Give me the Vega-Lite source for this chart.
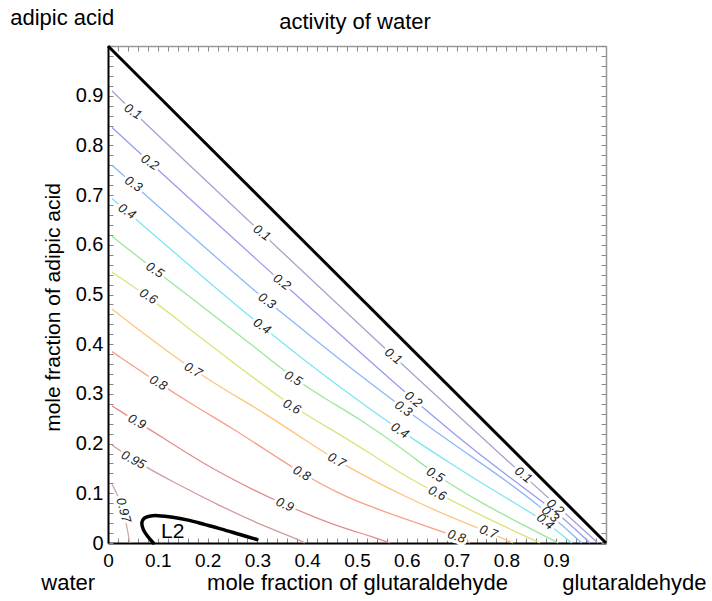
{
  "$schema": "https://vega.github.io/schema/vega-lite/v6.json",
  "width": 498,
  "height": 497,
  "autosize": {"type": "none"},
  "padding": {"left": 108, "top": 46, "right": 106, "bottom": 58},
  "background": "white",
  "config": {"view": {"stroke": null}, "font": "Liberation Sans"},
  "datasets": {
    "contours": [
      {"level":"0.1","i":0,"x":0.008,"y":0.91},{"level":"0.1","i":1,"x":0.05,"y":0.868},{"level":"0.1","i":2,"x":0.15,"y":0.773},{"level":"0.1","i":3,"x":0.25,"y":0.679},{"level":"0.1","i":4,"x":0.35,"y":0.585},{"level":"0.1","i":5,"x":0.45,"y":0.491},{"level":"0.1","i":6,"x":0.55,"y":0.397},{"level":"0.1","i":7,"x":0.65,"y":0.305},{"level":"0.1","i":8,"x":0.75,"y":0.213},{"level":"0.1","i":9,"x":0.85,"y":0.122},{"level":"0.1","i":10,"x":0.92,"y":0.058},{"level":"0.1","i":11,"x":0.984,"y":0},
      {"level":"0.2","i":0,"x":0.008,"y":0.836},{"level":"0.2","i":1,"x":0.1,"y":0.751},{"level":"0.2","i":2,"x":0.2,"y":0.66},{"level":"0.2","i":3,"x":0.3,"y":0.569},{"level":"0.2","i":4,"x":0.4,"y":0.479},{"level":"0.2","i":5,"x":0.5,"y":0.389},{"level":"0.2","i":6,"x":0.6,"y":0.3},{"level":"0.2","i":7,"x":0.7,"y":0.215},{"level":"0.2","i":8,"x":0.8,"y":0.136},{"level":"0.2","i":9,"x":0.9,"y":0.064},{"level":"0.2","i":10,"x":0.968,"y":0},
      {"level":"0.3","i":0,"x":0.008,"y":0.76},{"level":"0.3","i":1,"x":0.1,"y":0.678},{"level":"0.3","i":2,"x":0.2,"y":0.59},{"level":"0.3","i":3,"x":0.3,"y":0.502},{"level":"0.3","i":4,"x":0.4,"y":0.422},{"level":"0.3","i":5,"x":0.5,"y":0.342},{"level":"0.3","i":6,"x":0.6,"y":0.266},{"level":"0.3","i":7,"x":0.7,"y":0.194},{"level":"0.3","i":8,"x":0.8,"y":0.126},{"level":"0.3","i":9,"x":0.9,"y":0.048},{"level":"0.3","i":10,"x":0.951,"y":0},
      {"level":"0.4","i":0,"x":0.008,"y":0.693},{"level":"0.4","i":1,"x":0.1,"y":0.613},{"level":"0.4","i":2,"x":0.2,"y":0.527},{"level":"0.4","i":3,"x":0.3,"y":0.443},{"level":"0.4","i":4,"x":0.4,"y":0.363},{"level":"0.4","i":5,"x":0.5,"y":0.288},{"level":"0.4","i":6,"x":0.6,"y":0.217},{"level":"0.4","i":7,"x":0.7,"y":0.152},{"level":"0.4","i":8,"x":0.8,"y":0.09},{"level":"0.4","i":9,"x":0.88,"y":0.043},{"level":"0.4","i":10,"x":0.931,"y":0},
      {"level":"0.5","i":0,"x":0.008,"y":0.617},{"level":"0.5","i":1,"x":0.094,"y":0.549},{"level":"0.5","i":2,"x":0.2,"y":0.468},{"level":"0.5","i":3,"x":0.3,"y":0.39},{"level":"0.5","i":4,"x":0.372,"y":0.331},{"level":"0.5","i":5,"x":0.45,"y":0.282},{"level":"0.5","i":6,"x":0.5,"y":0.253},{"level":"0.5","i":7,"x":0.6,"y":0.184},{"level":"0.5","i":8,"x":0.657,"y":0.137},{"level":"0.5","i":9,"x":0.75,"y":0.08},{"level":"0.5","i":10,"x":0.85,"y":0.028},{"level":"0.5","i":11,"x":0.904,"y":0},
      {"level":"0.6","i":0,"x":0.008,"y":0.545},{"level":"0.6","i":1,"x":0.081,"y":0.496},{"level":"0.6","i":2,"x":0.16,"y":0.433},{"level":"0.6","i":3,"x":0.245,"y":0.368},{"level":"0.6","i":4,"x":0.369,"y":0.274},{"level":"0.6","i":5,"x":0.462,"y":0.221},{"level":"0.6","i":6,"x":0.53,"y":0.178},{"level":"0.6","i":7,"x":0.596,"y":0.135},{"level":"0.6","i":8,"x":0.661,"y":0.1},{"level":"0.6","i":9,"x":0.75,"y":0.055},{"level":"0.6","i":10,"x":0.82,"y":0.022},{"level":"0.6","i":11,"x":0.867,"y":0},
      {"level":"0.7","i":0,"x":0.008,"y":0.471},{"level":"0.7","i":1,"x":0.08,"y":0.415},{"level":"0.7","i":2,"x":0.171,"y":0.348},{"level":"0.7","i":3,"x":0.245,"y":0.302},{"level":"0.7","i":4,"x":0.315,"y":0.261},{"level":"0.7","i":5,"x":0.396,"y":0.207},{"level":"0.7","i":6,"x":0.459,"y":0.166},{"level":"0.7","i":7,"x":0.53,"y":0.127},{"level":"0.7","i":8,"x":0.596,"y":0.094},{"level":"0.7","i":9,"x":0.68,"y":0.055},{"level":"0.7","i":10,"x":0.764,"y":0.022},{"level":"0.7","i":11,"x":0.813,"y":0},
      {"level":"0.8","i":0,"x":0.008,"y":0.385},{"level":"0.8","i":1,"x":0.101,"y":0.322},{"level":"0.8","i":2,"x":0.175,"y":0.275},{"level":"0.8","i":3,"x":0.248,"y":0.232},{"level":"0.8","i":4,"x":0.32,"y":0.185},{"level":"0.8","i":5,"x":0.389,"y":0.14},{"level":"0.8","i":6,"x":0.462,"y":0.1},{"level":"0.8","i":7,"x":0.53,"y":0.072},{"level":"0.8","i":8,"x":0.6,"y":0.047},{"level":"0.8","i":9,"x":0.65,"y":0.03},{"level":"0.8","i":10,"x":0.7,"y":0.013},{"level":"0.8","i":11,"x":0.727,"y":0},
      {"level":"0.9","i":0,"x":0.008,"y":0.276},{"level":"0.9","i":1,"x":0.058,"y":0.244},{"level":"0.9","i":2,"x":0.101,"y":0.218},{"level":"0.9","i":3,"x":0.195,"y":0.157},{"level":"0.9","i":4,"x":0.295,"y":0.105},{"level":"0.9","i":5,"x":0.355,"y":0.077},{"level":"0.9","i":6,"x":0.429,"y":0.046},{"level":"0.9","i":7,"x":0.48,"y":0.028},{"level":"0.9","i":8,"x":0.53,"y":0.013},{"level":"0.9","i":9,"x":0.566,"y":0},
      {"level":"0.95","i":0,"x":0.008,"y":0.197},{"level":"0.95","i":1,"x":0.051,"y":0.167},{"level":"0.95","i":2,"x":0.128,"y":0.124},{"level":"0.95","i":3,"x":0.228,"y":0.073},{"level":"0.95","i":4,"x":0.315,"y":0.033},{"level":"0.95","i":5,"x":0.382,"y":0.007},{"level":"0.95","i":6,"x":0.395,"y":0},
      {"level":"0.97","i":0,"x":0.008,"y":0.118},{"level":"0.97","i":1,"x":0.018,"y":0.1},{"level":"0.97","i":2,"x":0.027,"y":0.075},{"level":"0.97","i":3,"x":0.034,"y":0.05},{"level":"0.97","i":4,"x":0.039,"y":0.028},{"level":"0.97","i":5,"x":0.042,"y":0.01},{"level":"0.97","i":6,"x":0.043,"y":0}
    ],
    "labels": [
      {"level":"0.1","x":0.05,"y":0.868,"angle":33},{"level":"0.1","x":0.309,"y":0.624,"angle":36},{"level":"0.1","x":0.573,"y":0.376,"angle":38},{"level":"0.1","x":0.834,"y":0.137,"angle":38},
      {"level":"0.2","x":0.084,"y":0.766,"angle":33},{"level":"0.2","x":0.349,"y":0.525,"angle":36},{"level":"0.2","x":0.613,"y":0.289,"angle":38},{"level":"0.2","x":0.898,"y":0.072,"angle":40},
      {"level":"0.3","x":0.051,"y":0.722,"angle":33},{"level":"0.3","x":0.319,"y":0.487,"angle":35},{"level":"0.3","x":0.593,"y":0.27,"angle":36},{"level":"0.3","x":0.888,"y":0.058,"angle":40},
      {"level":"0.4","x":0.038,"y":0.667,"angle":33},{"level":"0.4","x":0.309,"y":0.436,"angle":34},{"level":"0.4","x":0.586,"y":0.226,"angle":33},{"level":"0.4","x":0.878,"y":0.043,"angle":40},
      {"level":"0.5","x":0.094,"y":0.549,"angle":33},{"level":"0.5","x":0.372,"y":0.331,"angle":30},{"level":"0.5","x":0.657,"y":0.137,"angle":31},
      {"level":"0.6","x":0.081,"y":0.496,"angle":33},{"level":"0.6","x":0.369,"y":0.274,"angle":28},{"level":"0.6","x":0.661,"y":0.1,"angle":27},
      {"level":"0.7","x":0.171,"y":0.348,"angle":30},{"level":"0.7","x":0.459,"y":0.166,"angle":29},{"level":"0.7","x":0.764,"y":0.022,"angle":22},
      {"level":"0.8","x":0.101,"y":0.322,"angle":30},{"level":"0.8","x":0.389,"y":0.14,"angle":29},{"level":"0.8","x":0.7,"y":0.013,"angle":18},
      {"level":"0.9","x":0.058,"y":0.244,"angle":30},{"level":"0.9","x":0.355,"y":0.077,"angle":24},
      {"level":"0.95","x":0.051,"y":0.167,"angle":28},
      {"level":"0.97","x":0.031,"y":0.066,"angle":75}
    ],
    "diagonal": [{"i":0,"x":0,"y":1},{"i":1,"x":1,"y":0}],
    "l2": [
      {"i":0,"x":0.091,"y":0},{"i":1,"x":0.08,"y":0.013},{"i":2,"x":0.071,"y":0.027},{"i":3,"x":0.068,"y":0.041},{"i":4,"x":0.073,"y":0.05},{"i":5,"x":0.083,"y":0.054},{"i":6,"x":0.1,"y":0.055},{"i":7,"x":0.13,"y":0.052},{"i":8,"x":0.161,"y":0.046},{"i":9,"x":0.195,"y":0.037},{"i":10,"x":0.228,"y":0.028},{"i":11,"x":0.265,"y":0.017},{"i":12,"x":0.299,"y":0.007}
    ],
    "l2label": [{"text":"L2","x":0.13,"y":0.023}],
    "corners": [
      {"text":"adipic acid","x":-0.092,"y":1.056},
      {"text":"activity of water","x":0.496,"y":1.048},
      {"text":"water","x":-0.08,"y":-0.08},
      {"text":"glutaraldehyde","x":1.057,"y":-0.08}
    ]
  },
  "layer": [
    {
      "data": {"name": "contours"},
      "mark": {"type": "line", "interpolate": "basis", "strokeWidth": 1.3},
      "encoding": {
        "x": {"field": "x", "type": "quantitative", "scale": {"domain": [0, 1], "nice": false, "zero": false},
          "axis": {"orient": "bottom", "title": "mole fraction of glutaraldehyde", "titleFontSize": 22, "titleFontWeight": "normal", "titleColor": "black", "titleFont": "Liberation Sans", "titlePadding": 2,
            "values": [0,0.02,0.04,0.06,0.08,0.1,0.12,0.14,0.16,0.18,0.2,0.22,0.24,0.26,0.28,0.3,0.32,0.34,0.36,0.38,0.4,0.42,0.44,0.46,0.48,0.5,0.52,0.54,0.56,0.58,0.6,0.62,0.64,0.66,0.68,0.7,0.72,0.74,0.76,0.78,0.8,0.82,0.84,0.86,0.88,0.9,0.92,0.94,0.96,0.98,1],
            "labelExpr": "(abs(datum.value*10 - round(datum.value*10)) < 0.001 && datum.value < 0.95) ? (datum.value == 0 ? '0' : format(datum.value, '.1f')) : ''",
            "labelFontSize": 19, "labelColor": "black", "labelFont": "Liberation Sans", "labelPadding": 13, "labelOverlap": false, "labelFlush": false, "labelBound": false,
            "tickSize": -5, "tickColor": "#888", "tickWidth": 1, "domainColor": "black", "domainWidth": 2, "grid": false}},
        "y": {"field": "y", "type": "quantitative", "scale": {"domain": [0, 1], "nice": false, "zero": false},
          "axis": {"orient": "left", "title": "mole fraction of adipic acid", "titleFontSize": 21, "titleFontWeight": "normal", "titleColor": "black", "titleFont": "Liberation Sans", "titlePadding": 12, "titleY": 261,
            "values": [0,0.02,0.04,0.06,0.08,0.1,0.12,0.14,0.16,0.18,0.2,0.22,0.24,0.26,0.28,0.3,0.32,0.34,0.36,0.38,0.4,0.42,0.44,0.46,0.48,0.5,0.52,0.54,0.56,0.58,0.6,0.62,0.64,0.66,0.68,0.7,0.72,0.74,0.76,0.78,0.8,0.82,0.84,0.86,0.88,0.9,0.92,0.94,0.96,0.98,1],
            "labelExpr": "(abs(datum.value*10 - round(datum.value*10)) < 0.001 && datum.value < 0.95) ? (datum.value == 0 ? '0' : format(datum.value, '.1f')) : ''",
            "labelFontSize": 20, "labelColor": "black", "labelFont": "Liberation Sans", "labelPadding": 10, "labelOverlap": false, "labelFlush": false, "labelBound": false,
            "tickSize": -5, "tickColor": "#888", "tickWidth": 1, "domainColor": "black", "domainWidth": 2, "grid": false}},
        "color": {"field": "level", "type": "nominal", "legend": null,
          "scale": {"domain": ["0.1","0.2","0.3","0.4","0.5","0.6","0.7","0.8","0.9","0.95","0.97"],
                    "range": ["#a4a4cc","#9a9af0","#8ab8f8","#7ee4f4","#98e8a0","#d8e47c","#ffc47e","#f8a08a","#e48c8c","#d09c9c","#d4aaaa"]}},
        "order": {"field": "i", "type": "quantitative"}
      }
    },
    {
      "data": {"name": "labels"},
      "mark": {"type": "text", "fontSize": 13, "fontStyle": "italic", "font": "Liberation Sans", "fill": "white", "stroke": "white", "strokeWidth": 6, "strokeJoin": "round", "align": "center", "baseline": "middle"},
      "encoding": {
        "x": {"field": "x", "type": "quantitative", "axis": null},
        "y": {"field": "y", "type": "quantitative", "axis": null},
        "text": {"field": "level"},
        "angle": {"field": "angle", "type": "quantitative", "scale": null}
      }
    },
    {
      "data": {"name": "labels"},
      "mark": {"type": "text", "fontSize": 13, "fontStyle": "italic", "font": "Liberation Sans", "color": "#222", "align": "center", "baseline": "middle"},
      "encoding": {
        "x": {"field": "x", "type": "quantitative", "axis": null},
        "y": {"field": "y", "type": "quantitative", "axis": null},
        "text": {"field": "level"},
        "angle": {"field": "angle", "type": "quantitative", "scale": null}
      }
    },
    {
      "data": {"name": "diagonal"},
      "mark": {"type": "line", "color": "black", "strokeWidth": 3},
      "encoding": {
        "x": {"field": "x", "type": "quantitative",
          "axis": {"orient": "top", "title": null, "labels": false, "values": [0,0.02,0.04,0.06,0.08,0.1,0.12,0.14,0.16,0.18,0.2,0.22,0.24,0.26,0.28,0.3,0.32,0.34,0.36,0.38,0.4,0.42,0.44,0.46,0.48,0.5,0.52,0.54,0.56,0.58,0.6,0.62,0.64,0.66,0.68,0.7,0.72,0.74,0.76,0.78,0.8,0.82,0.84,0.86,0.88,0.9,0.92,0.94,0.96,0.98,1],
            "tickSize": -5, "tickColor": "#888", "tickWidth": 1, "domainColor": "#999", "domainWidth": 1.5, "grid": false}},
        "y": {"field": "y", "type": "quantitative",
          "axis": {"orient": "right", "title": null, "labels": false, "values": [0,0.02,0.04,0.06,0.08,0.1,0.12,0.14,0.16,0.18,0.2,0.22,0.24,0.26,0.28,0.3,0.32,0.34,0.36,0.38,0.4,0.42,0.44,0.46,0.48,0.5,0.52,0.54,0.56,0.58,0.6,0.62,0.64,0.66,0.68,0.7,0.72,0.74,0.76,0.78,0.8,0.82,0.84,0.86,0.88,0.9,0.92,0.94,0.96,0.98,1],
            "tickSize": -5, "tickColor": "#888", "tickWidth": 1, "domainColor": "#999", "domainWidth": 1.5, "grid": false}},
        "order": {"field": "i", "type": "quantitative"}
      }
    },
    {
      "data": {"name": "l2"},
      "mark": {"type": "line", "color": "black", "strokeWidth": 3.5, "interpolate": "cardinal", "strokeCap": "round"},
      "encoding": {
        "x": {"field": "x", "type": "quantitative", "axis": null},
        "y": {"field": "y", "type": "quantitative", "axis": null},
        "order": {"field": "i", "type": "quantitative"}
      }
    },
    {
      "data": {"name": "l2label"},
      "mark": {"type": "text", "fontSize": 21, "font": "Liberation Sans", "color": "black", "align": "center", "baseline": "middle"},
      "encoding": {
        "x": {"field": "x", "type": "quantitative", "axis": null},
        "y": {"field": "y", "type": "quantitative", "axis": null},
        "text": {"field": "text"}
      }
    },
    {
      "data": {"name": "corners"},
      "mark": {"type": "text", "fontSize": 22, "font": "Liberation Sans", "color": "black", "align": "center", "baseline": "middle"},
      "encoding": {
        "x": {"field": "x", "type": "quantitative", "axis": null},
        "y": {"field": "y", "type": "quantitative", "axis": null},
        "text": {"field": "text"}
      }
    }
  ],
  "resolve": {"axis": {"x": "independent", "y": "independent"}}
}
